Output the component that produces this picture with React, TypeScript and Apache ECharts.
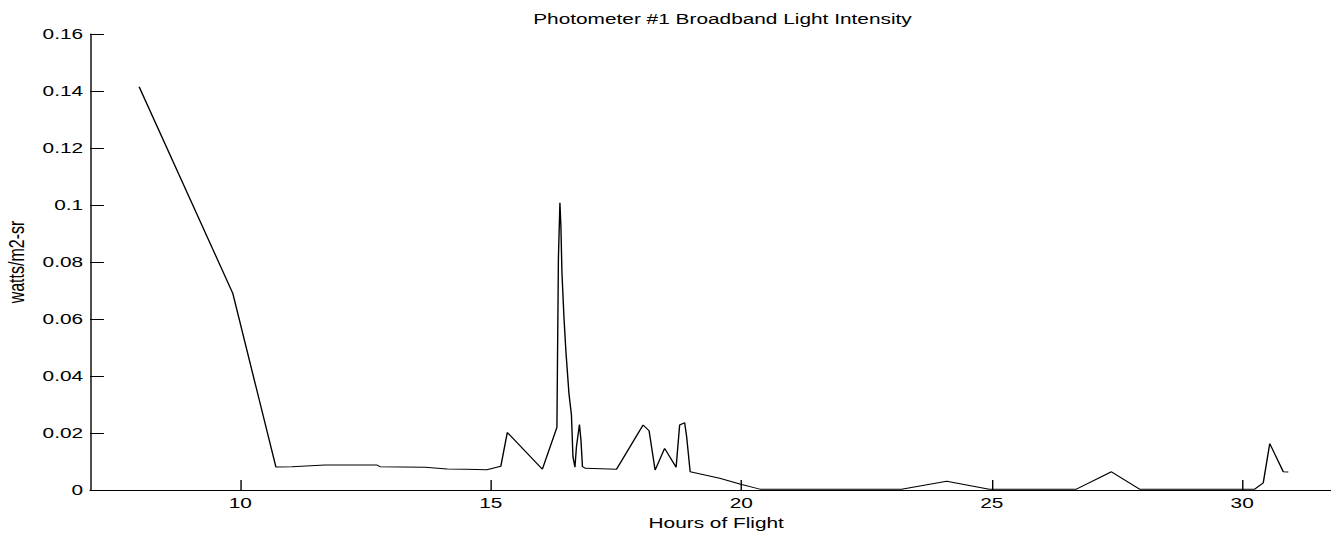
import React, { useEffect, useRef } from "react";
import * as echarts from "echarts";

// Hours of flight (x) and broadband light intensity in watts/m2-sr (y)
const hours: number[] = [
  7.98, 9.85, 10.71, 11.03, 11.69, 12.72, 12.79, 13.69, 14.13, 14.52,
  14.92, 15.2, 15.33, 16.03, 16.32, 16.33, 16.35, 16.38, 16.4, 16.42,
  16.46, 16.5, 16.53, 16.56, 16.61, 16.64, 16.68, 16.71, 16.77, 16.8,
  16.83, 16.89, 17.51, 18.04, 18.16, 18.28, 18.47, 18.7, 18.77, 18.87,
  18.91, 18.98, 19.57, 19.97, 20.37, 23.2, 24.1, 24.95, 26.69, 27.39,
  27.95, 30.25, 30.42, 30.55, 30.82, 30.92,
];
const intensity: number[] = [
  0.1415, 0.069, 0.0081, 0.0082, 0.0088, 0.0088, 0.0082, 0.008, 0.0074, 0.0073,
  0.0071, 0.0083, 0.0202, 0.0073, 0.022, 0.0421, 0.0813, 0.1008, 0.0924, 0.0766,
  0.0608, 0.0485, 0.0412, 0.0339, 0.0263, 0.0117, 0.008, 0.0152, 0.023, 0.0175,
  0.0082, 0.0076, 0.0073, 0.0228, 0.0208, 0.007, 0.0146, 0.008, 0.0228, 0.0236,
  0.0187, 0.0064, 0.0041, 0.0021, 0.0003, 0.0003, 0.0031, 0.0003, 0.0003, 0.0064,
  0.0003, 0.0003, 0.0025, 0.0163, 0.0064, 0.0063,
];

const titleText = "Photometer #1 Broadband Light Intensity";
const xName = "Hours of Flight";
const yName = "watts/m2-sr";
const xMin = 7;
const xMax = 32;
const yMin = 0;
const yMax = 0.16;
const yStep = 0.02;

const FONT = "'Liberation Sans', Arial, Helvetica, sans-serif";
const STRETCH = 1331 / 958;

export default function App() {
  const ref = useRef<HTMLDivElement>(null);

  useEffect(() => {
    if (!ref.current) return;
    const chart = echarts.init(ref.current, undefined, { renderer: "svg" });
    const points = hours.map((h, i) => [h, intensity[i]]);
    chart.setOption({
      animation: false,
      backgroundColor: "#ffffff",
      title: {
        text: titleText,
        left: 515,
        top: 7,
        textAlign: "center",
        textStyle: {
          color: "#000",
          fontFamily: FONT,
          fontSize: 15,
          fontWeight: "normal",
        },
      },
      grid: {
        left: 64.8,
        right: -8.2,
        top: 34,
        bottom: 44,
        containLabel: false,
        outerBoundsMode: "none",
      },
      xAxis: {
        type: "value",
        min: xMin,
        max: xMax,
        splitNumber: 5,
        name: xName,
        nameLocation: "middle",
        nameGap: 25,
        nameTextStyle: { color: "#000", fontFamily: FONT, fontSize: 15 },
        axisLine: { show: true, lineStyle: { color: "#000", width: 1 } },
        axisTick: { show: true, inside: true, length: 10, lineStyle: { color: "#000" } },
        axisLabel: {
          color: "#000",
          fontFamily: FONT,
          fontSize: 15,
          margin: 6,
          showMinLabel: false,
          showMaxLabel: false,
          formatter: (v: number) => (Math.abs(v % 5) < 1e-9 ? String(v) : ""),
        },
        splitLine: { show: false },
      },
      yAxis: {
        type: "value",
        min: yMin,
        max: yMax,
        interval: yStep,
        name: yName,
        nameLocation: "middle",
        nameGap: 38,
        nameTextStyle: { color: "#000", fontFamily: FONT, fontSize: 16 },
        axisLine: { show: true, lineStyle: { color: "#000", width: 1 } },
        axisTick: { show: true, inside: true, length: 10, lineStyle: { color: "#000" } },
        axisLabel: {
          color: "#000",
          fontFamily: FONT,
          fontSize: 15,
          margin: 5,
          formatter: (v: number) => String(+v.toFixed(2)),
        },
        splitLine: { show: false },
      },
      series: [
        {
          type: "line",
          data: points,
          showSymbol: false,
          symbol: "none",
          lineStyle: { color: "#000", width: 1 },
          itemStyle: { color: "#000" },
          clip: true,
        },
      ],
    });
    return () => chart.dispose();
  }, []);

  return (
    <div
      style={{
        position: "absolute",
        left: 0,
        top: 0,
        width: 1331,
        height: 534,
        overflow: "hidden",
        background: "#fff",
      }}
    >
      <div
        ref={ref}
        style={{
          width: 958,
          height: 534,
          transform: `scaleX(${STRETCH})`,
          transformOrigin: "0 0",
        }}
      />
    </div>
  );
}
